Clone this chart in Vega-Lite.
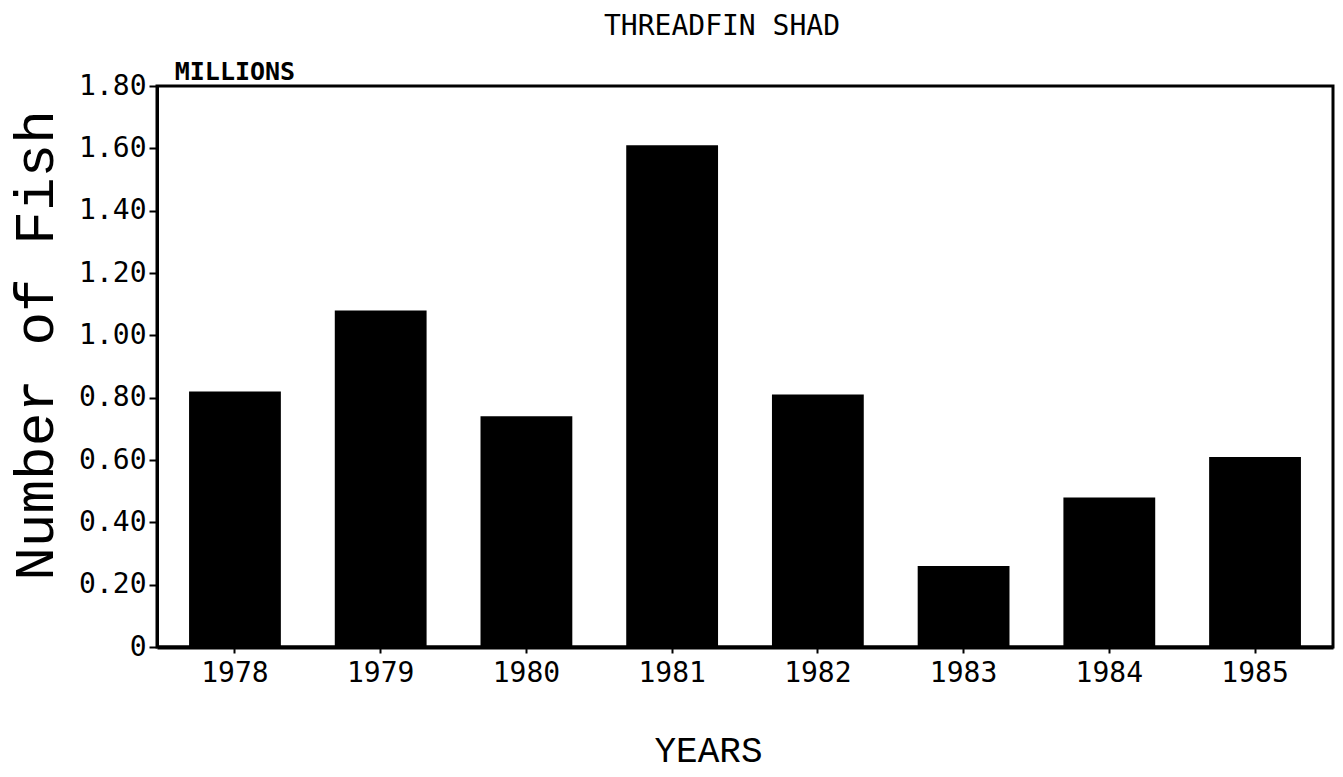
{
  "$schema": "https://vega.github.io/schema/vega-lite/v6.json",
  "autosize": {"type": "none"},
  "padding": {"left": 157, "top": 86, "right": 10, "bottom": 130},
  "width": 1176,
  "height": 561,
  "background": "white",
  "title": {
    "text": "THREADFIN SHAD",
    "font": "DejaVu Sans Mono",
    "fontSize": 28,
    "fontWeight": "normal",
    "color": "black",
    "anchor": "middle",
    "dx": -23,
    "offset": 19
  },
  "config": {
    "view": {"stroke": "black", "strokeWidth": 3},
    "axis": {
      "domainColor": "black",
      "tickColor": "black",
      "labelColor": "black",
      "titleColor": "black",
      "labelFont": "DejaVu Sans Mono",
      "labelFontSize": 28,
      "labelFontWeight": "normal",
      "grid": false
    }
  },
  "data": {
    "values": [
      {"year": "1978", "fish": 0.82},
      {"year": "1979", "fish": 1.08},
      {"year": "1980", "fish": 0.74},
      {"year": "1981", "fish": 1.61},
      {"year": "1982", "fish": 0.81},
      {"year": "1983", "fish": 0.26},
      {"year": "1984", "fish": 0.48},
      {"year": "1985", "fish": 0.61}
    ]
  },
  "layer": [
    {
      "mark": {"type": "bar", "color": "black"},
      "encoding": {
        "x": {
          "field": "year",
          "type": "nominal",
          "sort": null,
          "scale": {"paddingInner": 0.37, "paddingOuter": 0.22},
          "axis": {
            "title": "YEARS",
            "titleFont": "Liberation Mono",
            "titleFontSize": 36,
            "titleFontWeight": "normal",
            "titlePadding": 46,
            "titleX": 551,
            "labelAngle": 0,
            "labelPadding": 6,
            "tickSize": 6,
            "tickWidth": 2,
            "domainWidth": 4
          }
        },
        "y": {
          "field": "fish",
          "type": "quantitative",
          "scale": {"domain": [0, 1.8]},
          "axis": {
            "title": "Number of Fish",
            "titleFont": "Liberation Mono",
            "titleFontSize": 56,
            "titleFontWeight": "normal",
            "titleY": 259,
            "titlePadding": 14,
            "values": [0, 0.2, 0.4, 0.6, 0.8, 1.0, 1.2, 1.4, 1.6, 1.8],
            "labelExpr": "datum.value == 0 ? '0' : format(datum.value, '.2f')",
            "labelPadding": 3,
            "tickSize": 8,
            "tickWidth": 2,
            "domainWidth": 3
          }
        }
      }
    },
    {
      "data": {"values": [{"year": "1978", "fish": 1.8, "label": "MILLIONS"}]},
      "mark": {
        "type": "text",
        "font": "DejaVu Sans Mono",
        "fontSize": 25,
        "fontWeight": "bold",
        "baseline": "bottom",
        "dy": -1,
        "color": "black"
      },
      "encoding": {
        "x": {"field": "year", "type": "nominal"},
        "y": {"field": "fish", "type": "quantitative"},
        "text": {"field": "label"}
      }
    }
  ]
}
